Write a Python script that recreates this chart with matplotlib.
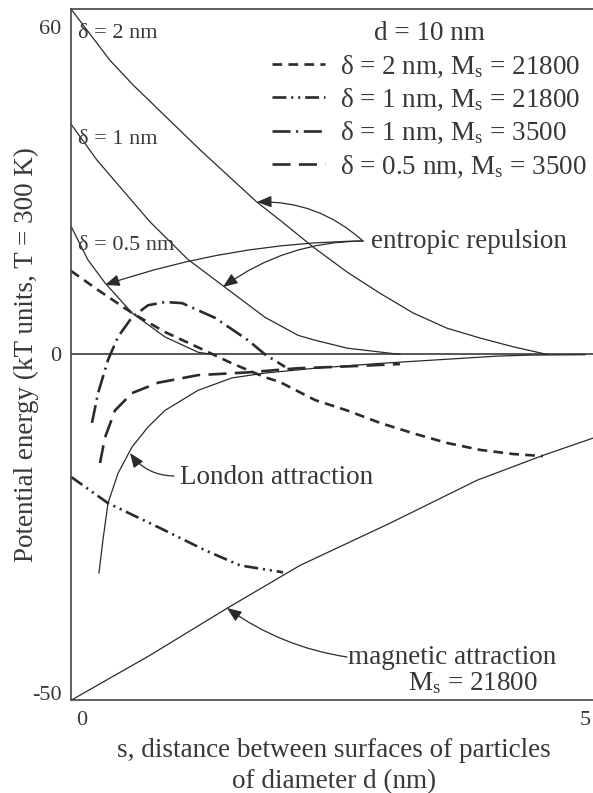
import numpy as np
import matplotlib
matplotlib.use("Agg")
import matplotlib.pyplot as plt
from matplotlib.lines import Line2D
from matplotlib import transforms

plt.rcParams['font.family'] = ['Liberation Serif', 'DejaVu Serif']
plt.rcParams['mathtext.fontset'] = 'custom'
plt.rcParams['mathtext.rm'] = 'Liberation Serif'
plt.rcParams['mathtext.it'] = 'Liberation Serif:italic'
plt.rcParams['lines.scale_dashes'] = False

# ---------------- data (s in nm, energy in kT) ----------------
# entropic repulsion, solid curves
s_rep_d2 = [0.0, 0.379, 0.603, 1.255, 1.809, 2.033, 2.354, 2.685, 3.006, 3.327, 3.658, 3.979, 4.300, 4.630]
u_rep_d2 = [63.3, 53.9, 49.4, 37.5, 27.9, 24.6, 19.7, 15.1, 11.2, 7.6, 4.8, 3.0, 1.4, 0.0]

s_rep_d1 = [0.0, 0.253, 0.768, 1.138, 1.498, 1.887, 2.208, 2.374, 2.685, 3.200]
u_rep_d1 = [42.2, 35.6, 24.3, 17.4, 12.3, 6.8, 3.5, 2.6, 1.15, 0.0]

s_rep_d05 = [0.0, 0.165, 0.331, 0.593, 0.914, 1.235, 1.372]
u_rep_d05 = [23.5, 17.3, 13.1, 7.6, 3.2, 0.4, 0.0]

# London attraction
s_london = [0.272, 0.311, 0.360, 0.457, 0.593, 0.749, 0.914, 1.235, 1.566, 1.887, 2.374, 3.006, 3.658, 4.144, 4.465, 5.0]
u_london = [-31.6, -26.8, -21.5, -17.2, -13.4, -10.5, -8.1, -5.2, -3.4, -2.7, -2.0, -1.3, -0.7, -0.25, -0.1, -0.05]

# magnetic attraction, Ms = 21800
s_mag = [0.0, 0.768, 1.518, 2.228, 3.103, 3.949, 4.591, 5.078]
u_mag = [-50.0, -43.5, -36.7, -30.5, -24.4, -18.2, -14.6, -12.1]

# total energies
s_tot_d2_21800 = [0.0, 0.263, 0.593, 0.914, 1.235, 1.566, 1.887, 2.033, 2.374, 2.685, 3.006, 3.327, 3.658, 3.979, 4.300, 4.591]
u_tot_d2_21800 = [15.3, 11.8, 7.6, 4.1, 1.3, -1.3, -3.3, -4.0, -6.6, -8.1, -9.9, -11.4, -12.8, -13.8, -14.4, -14.7]

s_tot_d1_21800 = [0.0, 0.360, 0.866, 1.303, 1.644, 2.062]
u_tot_d1_21800 = [-17.7, -21.5, -25.1, -28.3, -30.5, -31.5]

s_tot_d1_3500 = [0.204, 0.263, 0.360, 0.457, 0.593, 0.749, 0.914, 1.080, 1.401, 1.722, 1.887, 2.082]
u_tot_d1_3500 = [-9.9, -5.6, -0.8, 3.2, 6.8, 9.0, 9.6, 9.4, 6.7, 2.6, 0.0, -1.8]

s_tot_d05_3500 = [0.282, 0.331, 0.428, 0.593, 0.846, 1.235, 1.722, 2.208, 2.588, 3.200]
u_tot_d05_3500 = [-15.7, -12.0, -8.1, -5.6, -4.1, -3.0, -2.6, -2.0, -1.8, -1.4]

legend_labels = [r"δ = 2 nm, M$_\mathrm{s}$ = 21800",
                 r"δ = 1 nm, M$_\mathrm{s}$ = 21800",
                 r"δ = 1 nm, M$_\mathrm{s}$ = 3500",
                 r"δ = 0.5 nm, M$_\mathrm{s}$ = 3500"]
x_ticks = [0, 5]
y_ticks = [-50, 0, 60]

# ---------------- figure ----------------
W, H = 593, 793
fig = plt.figure(figsize=(W / 100, H / 100), dpi=100)
fig.patch.set_facecolor('white')
L, T, R, B = 71, 9.3, 593, 700.3
ax = fig.add_axes([L / W, 1 - B / H, (R - L) / W, (B - T) / H])

KP, KN = 5.455, 6.917   # piecewise (schematic) y axis


def fwd(y):
    y = np.asarray(y, float)
    return np.where(y >= 0, y * KP, y * KN)


def inv(p):
    p = np.asarray(p, float)
    return np.where(p >= 0, p / KP, p / KN)


ax.set_yscale('function', functions=(fwd, inv))
ax.set_xlim(0, 5.078)
ax.set_ylim(-50, 63.25)

LC = '#2b2b2b'
TC = '#383838'
thin = 0.9
thick = 1.9

ax.axhline(0, color=LC, lw=1.1)
ax.plot(s_rep_d2, u_rep_d2, color=LC, lw=thin)
ax.plot(s_rep_d1, u_rep_d1, color=LC, lw=thin)
ax.plot(s_rep_d05, u_rep_d05, color=LC, lw=thin)
ax.plot(s_london, u_london, color=LC, lw=thin)
ax.plot(s_mag, u_mag, color=LC, lw=thin)

dash_styles = [(0, (7, 4.5)), (0, (10, 3.5, 1.5, 3.5, 1.5, 3.5)), (0, (13, 4, 1.5, 4)), (0, (13, 6))]
series = [(s_tot_d2_21800, u_tot_d2_21800), (s_tot_d1_21800, u_tot_d1_21800),
          (s_tot_d1_3500, u_tot_d1_3500), (s_tot_d05_3500, u_tot_d05_3500)]
handles = []
for (sx, uy), ls, lab in zip(series, dash_styles, legend_labels):
    ax.plot(sx, uy, color=LC, lw=thick, linestyle=ls)
    handles.append(Line2D([], [], color=LC, lw=thick, linestyle=ls, label=lab))

for side in ['left', 'bottom', 'top']:
    ax.spines[side].set_color('#444444')
    ax.spines[side].set_linewidth(1.2)
ax.spines['right'].set_visible(False)

ax.set_xticks(x_ticks)
ax.set_xticklabels([str(v) for v in x_ticks])
ax.set_yticks(y_ticks)
ax.set_yticklabels([str(v) for v in y_ticks])
ax.tick_params(length=0, labelsize=16, labelcolor=TC)
ax.tick_params(axis='x', pad=8)
ax.tick_params(axis='y', pad=7)
# small offsets of individual tick labels as in the original
lx0 = ax.get_xticklabels()[0]
lx0.set_transform(lx0.get_transform() + transforms.ScaledTranslation(11 / 100, 0, fig.dpi_scale_trans))
ly50 = ax.get_yticklabels()[0]
ly50.set_transform(ly50.get_transform() + transforms.ScaledTranslation(0, 7 / 100, fig.dpi_scale_trans))

leg = ax.legend(handles=handles, loc='upper right', bbox_to_anchor=(587 / W, 1 - 21 / H),
                bbox_transform=fig.transFigure, frameon=False, fontsize=19.5,
                title='d = 10 nm', title_fontsize=19.5, handlelength=1.95,
                handletextpad=0.55, labelspacing=0.27, borderpad=0, borderaxespad=0)
for t in leg.get_texts():
    t.set_color(TC)
leg.get_title().set_color(TC)


def FX(px):
    return px / W


def FY(py):
    return 1 - py / H


FS = 19.5
fig.text(FX(78), FY(34), 'δ = 2 nm', fontsize=16, color=TC, va='center')
fig.text(FX(78), FY(139), 'δ = 1 nm', fontsize=16, color=TC, va='center')
fig.text(FX(78), FY(245), 'δ = 0.5 nm', fontsize=16, color=TC, va='center')
fig.text(FX(371), FY(241), 'entropic repulsion', fontsize=FS, color=TC, va='center')
fig.text(FX(180), FY(477), 'London attraction', fontsize=FS, color=TC, va='center')
fig.text(FX(452), FY(657), 'magnetic attraction', fontsize=FS, color=TC, va='center', ha='center')
fig.text(FX(473), FY(683), r'M$_\mathrm{s}$ = 21800', fontsize=FS, color=TC, va='center', ha='center')

fig.text(FX(26), FY(355), 'Potential energy (kT units, T = 300 K)', fontsize=FS, color=TC,
         rotation=90, ha='center', va='center')
fig.text(FX(334), FY(766), 's, distance between surfaces of particles\nof diameter d (nm)',
         fontsize=FS, color=TC, ha='center', va='center', linespacing=1.3)


def arrow(start, tip, rad):
    ax.annotate('', xy=(tip[0], H - tip[1]), xycoords='figure pixels',
                xytext=(start[0], H - start[1]), textcoords='figure pixels',
                arrowprops=dict(arrowstyle='-|>,head_length=0.55,head_width=0.22',
                                color=LC, lw=0.9, shrinkA=0, shrinkB=0,
                                mutation_scale=16, connectionstyle=f'arc3,rad={rad}'))


arrow((363, 241), (257, 202), 0.2)
arrow((363, 241), (223, 287), 0.16)
arrow((363, 241), (105, 285), 0.08)
arrow((174, 476), (130, 453), -0.25)
arrow((347, 657), (227, 608), -0.12)

fig.savefig('out.png', dpi=100, facecolor='white')
